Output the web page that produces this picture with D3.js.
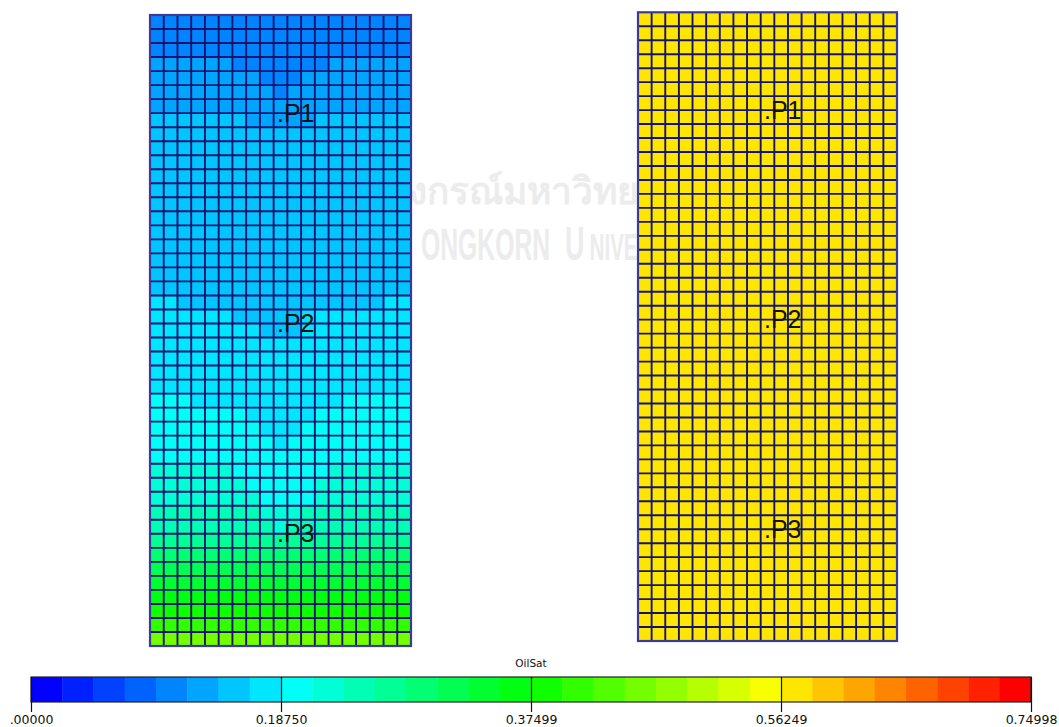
<!DOCTYPE html>
<html>
<head>
<meta charset="utf-8">
<script src="https://cdn.jsdelivr.net/npm/d3@7"></script>
<style>
  html, body { margin: 0; padding: 0; background: #fff; }
  svg { display: block; }
</style>
</head>
<body>
<svg id="chart" width="1059" height="727"></svg>
<script>
// ---- data ----
const nCols = 19;
const nRows = 45;

// oil saturation of each layer (top to bottom) in the left model
const leftRowSat = [
  0.105, 0.105, 0.105,
  0.129, 0.129, 0.129, 0.129,
  0.152, 0.152, 0.152, 0.152, 0.152, 0.152, 0.152, 0.152, 0.152, 0.152, 0.152, 0.152, 0.152,
  0.152,
  0.176, 0.176, 0.176, 0.176, 0.176, 0.176, 0.176,
  0.199, 0.199, 0.199, 0.199,
  0.223, 0.223, 0.223,
  0.246, 0.246, 0.270, 0.293, 0.316, 0.340, 0.363, 0.387, 0.410, 0.457
];
// cells that differ from their layer: [row, firstCol, lastCol, sat]
const leftPatches = [
  [3, 6, 12, 0.105],
  [4, 8, 10, 0.105],
  [5, 9, 9, 0.105],
  [7, 7, 11, 0.129],
  [20, 0, 1, 0.176], [20, 17, 18, 0.176],
  [21, 6, 10, 0.152],
  [22, 8, 10, 0.152],
  [27, 0, 2, 0.199], [27, 14, 18, 0.199],
  [28, 7, 11, 0.176],
  [29, 8, 10, 0.176],
  [30, 9, 9, 0.176],
  [32, 6, 12, 0.199],
  [33, 7, 11, 0.199],
  [34, 8, 11, 0.199],
  [35, 8, 10, 0.223],
  [36, 9, 9, 0.223]
];
// right model is one value everywhere
const rightSat = 0.575;

// wells: name, column, row
const wellNames = ["P1", "P2", "P3"];
const wellCols = [9, 9, 9];
const wellRows = [7, 22, 37];

// colour legend
const legendTitle = "OilSat";
const legendMax = 0.74998;
const legendBins = 32;
const tickValues = [0, 0.1875, 0.37499, 0.56249, 0.74998];
const tickLabels = [".00000", "0.18750", "0.37499", "0.56249", "0.74998"];
const rampStops = [0, 0.1875, 0.375, 0.5625, 0.75];
const rampColors = ["#0000ff", "#00ffff", "#00ff00", "#ffff00", "#ff0000"];

function main(){
  const svg = d3.select("#chart");

  const ramp = d3.scaleLinear().domain(rampStops).range(rampColors).interpolate(d3.interpolateRgb);
  const binColor = i => ramp(i / (legendBins - 1) * 0.75);
  const binOf = d3.scaleQuantize().domain([0, 0.75]).range(d3.range(legendBins));
  const satColor = v => binColor(binOf(v));

  draw_watermark(svg);

  // left model
  const leftCells = [];
  leftRowSat.forEach((s, r) => {
    for (let c = 0; c < nCols; c++) leftCells.push({r: r, c: c, v: s});
  });
  leftPatches.forEach(([r, c0, c1, s]) => {
    for (let c = c0; c <= c1; c++) leftCells[r * nCols + c].v = s;
  });

  // right model
  const rightCells = [];
  for (let r = 0; r < nRows; r++)
    for (let c = 0; c < nCols; c++) rightCells.push({r: r, c: c, v: rightSat});

  render_grid(svg, leftCells, [150, 411], [15, 646], satColor);
  render_grid(svg, rightCells, [638, 897], [12.3, 641], satColor);

  render_legend(svg, binColor);
}

function render_grid(svg, cells, xr, yr, satColor){
  const x = d3.scaleLinear().domain([0, nCols]).range(xr);
  const y = d3.scaleLinear().domain([0, nRows]).range(yr);
  const g = svg.append("g");

  g.selectAll("rect.cell").data(cells).enter().append("rect")
    .attr("class", "cell")
    .attr("x", d => x(d.c)).attr("y", d => y(d.r))
    .attr("width", d => x(d.c + 1) - x(d.c) + 0.3)
    .attr("height", d => y(d.r + 1) - y(d.r) + 0.3)
    .attr("fill", d => satColor(d.v));

  // cell borders
  g.selectAll("line.v").data(d3.range(1, nCols)).enter().append("line")
    .attr("x1", d => x(d)).attr("x2", d => x(d))
    .attr("y1", yr[0]).attr("y2", yr[1])
    .attr("stroke", "#14146e").attr("stroke-width", 1.9);
  g.selectAll("line.h").data(d3.range(1, nRows)).enter().append("line")
    .attr("y1", d => y(d)).attr("y2", d => y(d))
    .attr("x1", xr[0]).attr("x2", xr[1])
    .attr("stroke", "#14146e").attr("stroke-width", 1.9);

  g.append("rect")
    .attr("x", xr[0]).attr("y", yr[0])
    .attr("width", xr[1] - xr[0]).attr("height", yr[1] - yr[0])
    .attr("fill", "none").attr("stroke", "#3a3a9a").attr("stroke-width", 2.2);

  // well labels, the dot sits on the cell centre
  g.selectAll("text.well").data(wellNames).enter().append("text")
    .attr("x", (d, i) => x(wellCols[i] + 0.5) - 3.5)
    .attr("y", (d, i) => y(wellRows[i] + 0.5) + 1.5)
    .attr("font-family", "Liberation Sans")
    .attr("font-size", 25)
    .attr("fill", "#111")
    .text(d => "." + d);
}

function render_legend(svg, binColor){
  const top = 677, h = 25;
  const x = d3.scaleLinear().domain([0, legendMax]).range([31, 1031]);
  const bw = (x.range()[1] - x.range()[0]) / legendBins;
  const g = svg.append("g");

  g.selectAll("rect.bin").data(d3.range(legendBins)).enter().append("rect")
    .attr("x", i => 31 + i * bw).attr("y", top)
    .attr("width", bw + 0.4).attr("height", h)
    .attr("fill", i => binColor(i));

  g.append("rect").attr("x", 31).attr("y", top).attr("width", 1000).attr("height", h)
    .attr("fill", "none").attr("stroke", "#222").attr("stroke-width", 1.2);

  const axis = d3.axisBottom(x).tickValues(tickValues)
    .tickFormat((d, i) => tickLabels[i]).tickSize(35);
  const ax = svg.append("g").attr("transform", `translate(0, ${top})`).call(axis);
  ax.select(".domain").remove();
  ax.selectAll(".tick line").attr("stroke", "#111").attr("stroke-width", 1.2);
  ax.selectAll(".tick text")
    .attr("y", 47).attr("dy", 0)
    .attr("font-family", "DejaVu Sans").attr("font-size", 12.5).attr("fill", "#111");

  svg.append("text").attr("x", 531).attr("y", 667)
    .attr("text-anchor", "middle")
    .attr("font-family", "DejaVu Sans").attr("font-size", 10.5).attr("fill", "#111")
    .text(legendTitle);
}

function draw_watermark(svg){
  // faint university mark behind the two models
  const g = svg.append("g").attr("fill", "#ececec");
  g.append("text").attr("x", 318).attr("y", 204)
    .attr("font-family", "Noto Sans, DejaVu Sans").attr("font-weight", "bold").attr("font-size", 37)
    .text("จุฬาลงกรณ์มหาวิทยาลัย");
  const en = g.append("text").attr("transform", "translate(421,260) scale(0.55,1)")
    .attr("font-family", "Liberation Sans").attr("font-weight", "bold");
  en.append("tspan").attr("x", 0).attr("font-size", 45).text("ONGKORN");
  en.append("tspan").attr("x", 262).attr("font-size", 49).text("U");
  en.append("tspan").attr("x", 307).attr("font-size", 37).text("NIVERSITY");
}

main();
</script>
</body>
</html>
